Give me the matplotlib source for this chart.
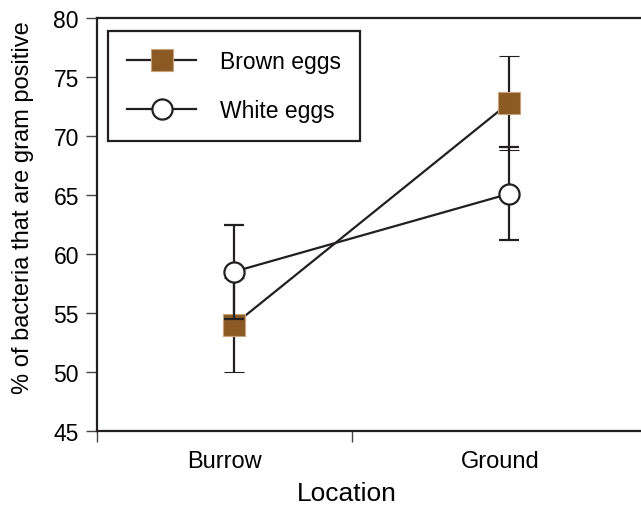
import matplotlib
matplotlib.use("Agg")
import matplotlib.pyplot as plt
from matplotlib.lines import Line2D

plt.rcParams['font.family'] = ['Liberation Sans', 'DejaVu Sans']

locations = ["Burrow", "Ground"]
brown_mean = [54.0, 72.8]
brown_err = [4.0, 4.0]
white_mean = [58.5, 65.1]
white_err = [4.0, 3.95]
yticks = [45, 50, 55, 60, 65, 70, 75, 80]

W, H = 641, 506
fig = plt.figure(figsize=(W / 100, H / 100), dpi=100)
ax = fig.add_axes([97 / W, (H - 432) / H, (W - 97) / W, (432 - 19) / H])

xs = list(range(len(locations)))
line_col = "#231f20"
brown_col = "#8b5a24"

ax.errorbar(xs, brown_mean, yerr=brown_err, color=line_col, lw=1.6, capsize=7.5,
            capthick=1.6, elinewidth=1.6, marker="s", ms=16.5, mfc=brown_col,
            mec="#c8a27a", mew=0.8, zorder=2)
ax.errorbar(xs, white_mean, yerr=white_err, color=line_col, lw=1.6, capsize=7.5,
            capthick=1.6, elinewidth=1.6, marker="o", ms=14.5, mfc="white",
            mec=line_col, mew=1.6, zorder=3)

ax.set_ylim(45, 80)
ax.set_xlim(-0.498, 1.48)
ax.set_yticks(yticks)
ax.tick_params(axis="y", length=8, width=1.0, color="#444444", pad=5, labelsize=16.5)

# x axis: ticks between categories, labels centred in slots
ax.set_xticks([-0.498, 0.429])
ax.set_xticklabels([])
ax.tick_params(axis="x", which="major", length=8, width=1.0, color="#444444")
ax.set_xticks([i - 0.033 for i in xs], minor=True)
ax.set_xticklabels(locations, minor=True)
ax.tick_params(axis="x", which="minor", length=0, pad=14, labelsize=17)

for s in ["left", "bottom", "top"]:
    ax.spines[s].set_linewidth(1.6)
    ax.spines[s].set_color(line_col)
ax.spines["right"].set_visible(False)

fig.text(347 / W, 1 - 501 / H, "Location", ha="center", va="baseline", fontsize=19)
fig.text(23 / W, 1 - 208 / H, "% of bacteria that are gram positive", rotation=90,
         ha="center", va="center", fontsize=17)

handles = [
    Line2D([], [], color=line_col, lw=1.6, marker="s", ms=16.5, mfc=brown_col,
           mec="#c8a27a", mew=0.8),
    Line2D([], [], color=line_col, lw=1.6, marker="o", ms=14.5, mfc="white",
           mec=line_col, mew=1.6),
]
leg = ax.legend(handles, ["Brown eggs", "White eggs"], loc="upper left",
                bbox_to_anchor=((108 - 97) / (W - 97), 1 - (32 - 19) / (432 - 19)),
                fancybox=False, edgecolor=line_col, fontsize=16.5, handlelength=3.0,
                handletextpad=1.02, labelspacing=1.1, borderpad=0.85, borderaxespad=0,
                framealpha=1)
leg.get_frame().set_linewidth(1.6)

fig.savefig("out.png", dpi=100)
